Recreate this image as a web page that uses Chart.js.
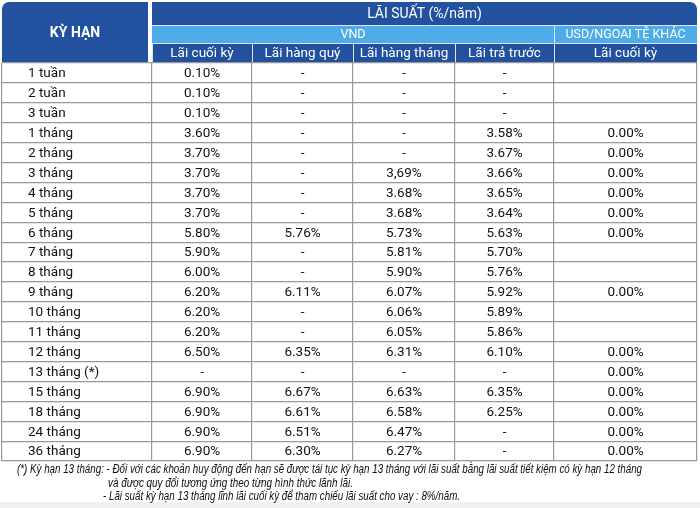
<!DOCTYPE html>
<html>
<head>
<meta charset="utf-8">
<script src="https://cdn.jsdelivr.net/npm/chart.js@4.4.1/dist/chart.umd.min.js"></script>
<style>
  html, body { margin: 0; padding: 0; background: #fff; }
  #wrap { width: 700px; height: 508px; }
</style>
</head>
<body>
<div id="wrap"><canvas id="c" width="700" height="508"></canvas></div>
<script>
// rows of the table
const terms = ['1 tuần', '2 tuần', '3 tuần', '1 tháng', '2 tháng', '3 tháng', '4 tháng', '5 tháng', '6 tháng',
  '7 tháng', '8 tháng', '9 tháng', '10 tháng', '11 tháng', '12 tháng', '13 tháng (*)', '15 tháng',
  '18 tháng', '24 tháng', '36 tháng'];

// VND columns
const laiCuoiKy = ['0.10%', '0.10%', '0.10%', '3.60%', '3.70%', '3.70%', '3.70%', '3.70%', '5.80%', '5.90%',
  '6.00%', '6.20%', '6.20%', '6.20%', '6.50%', '-', '6.90%', '6.90%', '6.90%', '6.90%'];
const laiHangQuy = ['-', '-', '-', '-', '-', '-', '-', '-', '5.76%', '-',
  '-', '6.11%', '-', '-', '6.35%', '-', '6.67%', '6.61%', '6.51%', '6.30%'];
const laiHangThang = ['-', '-', '-', '-', '-', '3,69%', '3.68%', '3.68%', '5.73%', '5.81%',
  '5.90%', '6.07%', '6.06%', '6.05%', '6.31%', '-', '6.63%', '6.58%', '6.47%', '6.27%'];
const laiTraTruoc = ['-', '-', '-', '3.58%', '3.67%', '3.66%', '3.65%', '3.64%', '5.63%', '5.70%',
  '5.76%', '5.92%', '5.89%', '5.86%', '6.10%', '-', '6.35%', '6.25%', '-', '-'];
// USD / other currencies
const usdCuoiKy = ['', '', '', '0.00%', '0.00%', '0.00%', '0.00%', '0.00%', '0.00%', '',
  '', '0.00%', '', '', '0.00%', '0.00%', '0.00%', '0.00%', '0.00%', '0.00%'];

const subHeaders = ['Lãi cuối kỳ', 'Lãi hàng quý', 'Lãi hàng tháng', 'Lãi trả trước', 'Lãi cuối kỳ'];
const footnotes = [
  '(*) Kỳ hạn 13 tháng: - Đối với các khoản huy động đến hạn sẽ được tái tục kỳ hạn 13 tháng với lãi suất bằng lãi suất tiết kiệm có kỳ hạn 12 tháng',
  'và được quy đổi tương ứng theo từng hình thức lãnh lãi.',
  '- Lãi suất kỳ hạn 13 tháng lĩnh lãi cuối kỳ để tham chiếu lãi suất cho vay : 8%/năm.'
];

// layout (x units = column edges across the table)
const colEdges = [0, 150, 250, 351, 453, 552, 695];
const DARK = '#22519f';
const LIGHT = '#4eade8';
const GRID = '#999999';
const FONT = 'Roboto, "Liberation Sans", sans-serif';

const columns = [terms, laiCuoiKy, laiHangQuy, laiHangThang, laiTraTruoc, usdCuoiKy];
const datasets = columns.map((col, ci) => {
  const cx = ci === 0 ? 26 : (colEdges[ci] + colEdges[ci + 1]) / 2;
  return {
    label: ci === 0 ? 'Kỳ hạn' : subHeaders[ci - 1],
    data: terms.map(t => ({ x: cx, y: t })),
    texts: col,
    align: ci === 0 ? 'left' : 'center',
    pointRadius: 0,
    pointHoverRadius: 0
  };
});

const cellText = {
  id: 'cellText',
  afterDatasetsDraw(chart) {
    const ctx = chart.ctx;
    ctx.save();
    ctx.fillStyle = '#111';
    ctx.font = '13.5px ' + FONT;
    ctx.textBaseline = 'middle';
    chart.data.datasets.forEach((ds, di) => {
      const meta = chart.getDatasetMeta(di);
      ctx.textAlign = ds.align;
      meta.data.forEach((el, i) => {
        const t = ds.texts[i];
        if (t) ctx.fillText(t, el.x, el.y + 1);
      });
    });
    ctx.restore();
  }
};

const header = {
  id: 'header',
  beforeDraw(chart) {
    const ctx = chart.ctx;
    const xs = chart.scales.x;
    const px = v => xs.getPixelForValue(v);
    const top = 2, bot = chart.chartArea.top;
    ctx.save();
    ctx.fillStyle = '#fff';
    ctx.fillRect(0, 0, chart.width, chart.height);
    ctx.fillStyle = '#f1f1f1';
    ctx.fillRect(0, 502, chart.width, chart.height - 502);

    // KỲ HẠN block
    ctx.fillStyle = DARK;
    ctx.beginPath();
    ctx.roundRect(px(0), top, px(colEdges[1]) - 4 - px(0), bot - top, [7, 0, 0, 0]);
    ctx.fill();

    // LÃI SUẤT block
    const L = px(colEdges[1]), R = px(colEdges[6]);
    ctx.beginPath();
    ctx.roundRect(L, top, R - L, bot - top, [0, 7, 0, 0]);
    ctx.fill();
    ctx.fillStyle = LIGHT;
    ctx.fillRect(L, 26, R - L, 17);
    ctx.strokeStyle = 'rgba(255,255,255,0.85)';
    ctx.lineWidth = 1;
    ctx.beginPath();
    ctx.moveTo(L, 25.5); ctx.lineTo(R, 25.5);
    ctx.moveTo(L, 43.5); ctx.lineTo(R, 43.5);
    ctx.moveTo(Math.round(px(colEdges[5])) + 0.5, 26);
    ctx.lineTo(Math.round(px(colEdges[5])) + 0.5, bot);
    for (let i = 2; i < 5; i++) {
      const x = Math.round(px(colEdges[i])) + 0.5;
      ctx.moveTo(x, 44); ctx.lineTo(x, bot);
    }
    ctx.moveTo(L + 0.5, 44); ctx.lineTo(L + 0.5, bot);
    ctx.stroke();

    ctx.fillStyle = '#fff';
    ctx.textAlign = 'center';
    ctx.textBaseline = 'middle';
    ctx.font = 'bold 14px ' + FONT;
    ctx.fillText('KỲ HẠN', (px(0) + L - 4) / 2, 33);
    ctx.font = '14px ' + FONT;
    ctx.fillText('LÃI SUẤT (%/năm)', (L + R) / 2, 14.5);
    ctx.font = '12.5px ' + FONT;
    ctx.fillText('VND', (L + px(colEdges[5])) / 2, 35);
    ctx.fillText('USD/NGOAI TỆ KHÁC', (px(colEdges[5]) + R) / 2, 35);
    ctx.font = '13.5px ' + FONT;
    subHeaders.forEach((s, i) => {
      ctx.fillText(s, (px(colEdges[i + 1]) + px(colEdges[i + 2])) / 2, 54);
    });

    // footnote, italic and narrow
    ctx.fillStyle = '#0d0d0d';
    ctx.textAlign = 'left';
    ctx.font = 'italic 12.5px "Liberation Sans Narrow", "Liberation Sans", sans-serif';
    const lines = [[17, 470, 625], [108, 484, 245], [103, 497, 357]];
    lines.forEach(([x, y, w], i) => {
      const mw = ctx.measureText(footnotes[i]).width;
      ctx.save();
      ctx.translate(x, y);
      ctx.scale(w / mw, 1);
      ctx.fillText(footnotes[i], 0, 0);
      ctx.restore();
    });
    ctx.restore();
  }
};

new Chart(document.getElementById('c'), {
  type: 'scatter',
  data: { datasets },
  options: {
    responsive: false,
    animation: false,
    events: [],
    layout: { padding: { top: 63, bottom: 47, left: 2, right: 3 } },
    plugins: { legend: { display: false }, tooltip: { enabled: false } },
    scales: {
      x: {
        type: 'linear',
        min: colEdges[0],
        max: colEdges[colEdges.length - 1],
        afterBuildTicks: s => { s.ticks = colEdges.map(v => ({ value: v })); },
        ticks: { display: false },
        border: { display: false },
        grid: { color: GRID, lineWidth: 1.2, drawTicks: false }
      },
      y: {
        type: 'category',
        labels: terms,
        offset: true,
        ticks: { display: false },
        border: { display: false },
        grid: { color: GRID, lineWidth: 1.2, drawTicks: false, offset: true }
      }
    }
  },
  plugins: [header, cellText]
});
</script>
</body>
</html>
